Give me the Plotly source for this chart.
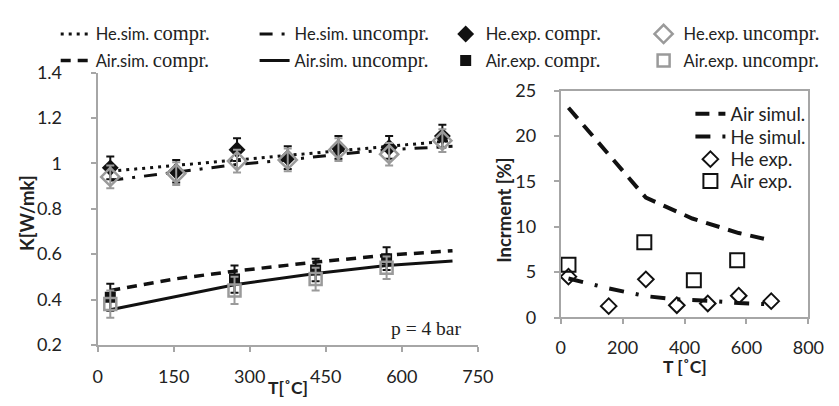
import plotly.graph_objects as go

# ---------------- data (left panel) ----------------
T_exp_he = [25, 155, 275, 375, 475, 575, 680]
he_exp_compr = [0.98, 0.965, 1.06, 1.025, 1.07, 1.07, 1.12]
he_exp_uncompr = [0.94, 0.955, 1.01, 1.015, 1.06, 1.04, 1.10]
he_err = [0.05, 0.05, 0.05, 0.05, 0.05, 0.05, 0.05]

T_exp_air = [25, 270, 430, 570]
air_exp_compr = [0.41, 0.49, 0.53, 0.58]
air_exp_uncompr = [0.38, 0.44, 0.49, 0.54]
air_err = [0.06, 0.06, 0.05, 0.05]

T_sim_he = [25, 155, 275, 375, 475, 575, 700]
he_sim_compr = [0.965, 0.99, 1.015, 1.035, 1.055, 1.075, 1.10]
he_sim_uncompr = [0.925, 0.96, 0.995, 1.015, 1.04, 1.06, 1.075]

T_sim_air = [25, 150, 270, 430, 570, 700]
air_sim_compr = [0.44, 0.49, 0.525, 0.565, 0.595, 0.615]
air_sim_uncompr = [0.355, 0.41, 0.465, 0.515, 0.55, 0.57]

# ---------------- data (right panel) ----------------
T_air_simul = [25, 275, 425, 575, 680]
air_simul = [23.1, 13.2, 10.9, 9.3, 8.5]
T_he_simul = [25, 155, 275, 375, 475, 575, 680]
he_simul = [4.3, 3.2, 2.35, 2.0, 1.85, 1.6, 1.45]
T_he_inc = [25, 155, 275, 375, 475, 575, 680]
he_inc = [4.5, 1.25, 4.2, 1.35, 1.55, 2.4, 1.8]
T_air_inc = [25, 270, 430, 570]
air_inc = [5.8, 8.3, 4.1, 6.3]

left_xticks = [0, 150, 300, 450, 600, 750]
left_yticks = [0.2, 0.4, 0.6, 0.8, 1, 1.2, 1.4]
right_xticks = [0, 200, 400, 600, 800]
right_yticks = [0, 5, 10, 15, 20, 25]

SANS = "Lato"
SERIF = "Liberation Serif"
BLACK = "#111111"
GRAY = "#9a9a9a"
AXC = "#a6a6a6"
TXT = "#222222"


def nm(a, b):
    return a + "<span style=\"font-family:'" + SERIF + "';font-size:20.5px\">" + b + "</span>"


fig = go.Figure()

# left panel lines
fig.add_trace(go.Scatter(x=T_sim_he, y=he_sim_compr, mode="lines", name=nm("He.sim. ", "compr."),
                         line=dict(color=BLACK, width=3, dash="3px,5px"), legend="legend",
                         xaxis="x", yaxis="y"))
fig.add_trace(go.Scatter(x=T_sim_he, y=he_sim_uncompr, mode="lines", name=nm("He.sim. ", "uncompr."),
                         line=dict(color=BLACK, width=3, dash="13px,9px,3px,9px"), legend="legend2",
                         xaxis="x", yaxis="y"))
fig.add_trace(go.Scatter(x=T_sim_air, y=air_sim_compr, mode="lines", name=nm("Air.sim. ", "compr."),
                         line=dict(color=BLACK, width=3.5, dash="10px,7px"), legend="legend5",
                         xaxis="x", yaxis="y"))
fig.add_trace(go.Scatter(x=T_sim_air, y=air_sim_uncompr, mode="lines", name=nm("Air.sim. ", "uncompr."),
                         line=dict(color=BLACK, width=3), legend="legend6",
                         xaxis="x", yaxis="y"))
# left panel experimental points
fig.add_trace(go.Scatter(x=T_exp_he, y=he_exp_compr, mode="markers", name=nm("He.exp. ", "compr."),
                         marker=dict(symbol="diamond", size=13, color=BLACK),
                         error_y=dict(type="data", array=he_err, color=BLACK, thickness=2, width=4),
                         legend="legend3", xaxis="x", yaxis="y"))
fig.add_trace(go.Scatter(x=T_exp_he, y=he_exp_uncompr, mode="markers", name=nm("He.exp. ", "uncompr."),
                         marker=dict(symbol="diamond-open", size=14, color=GRAY, line=dict(width=2.5, color=GRAY)),
                         error_y=dict(type="data", array=he_err, color=GRAY, thickness=2, width=4),
                         legend="legend4", xaxis="x", yaxis="y"))
fig.add_trace(go.Scatter(x=T_exp_air, y=air_exp_compr, mode="markers", name=nm("Air.exp. ", "compr."),
                         marker=dict(symbol="square", size=11, color=BLACK),
                         error_y=dict(type="data", array=air_err, color=BLACK, thickness=2, width=4),
                         legend="legend7", xaxis="x", yaxis="y"))
fig.add_trace(go.Scatter(x=T_exp_air, y=air_exp_uncompr, mode="markers", name=nm("Air.exp. ", "uncompr."),
                         marker=dict(symbol="square-open", size=12, color=GRAY, line=dict(width=2.5, color=GRAY)),
                         error_y=dict(type="data", array=air_err, color=GRAY, thickness=2, width=4),
                         legend="legend8", xaxis="x", yaxis="y"))

# right panel
fig.add_trace(go.Scatter(x=T_air_simul, y=air_simul, mode="lines", name="Air simul.",
                         line=dict(color=BLACK, width=4, dash="14px,9px"), legend="legend9",
                         xaxis="x2", yaxis="y2"))
fig.add_trace(go.Scatter(x=T_he_simul, y=he_simul, mode="lines", name="He simul.",
                         line=dict(color=BLACK, width=4, dash="15px,12px,3px,12px"), legend="legend10",
                         xaxis="x2", yaxis="y2"))
fig.add_trace(go.Scatter(x=T_he_inc, y=he_inc, mode="markers", name="He exp.",
                         marker=dict(symbol="diamond-open", size=12, color=BLACK, line=dict(width=2, color=BLACK)),
                         legend="legend11", xaxis="x2", yaxis="y2"))
fig.add_trace(go.Scatter(x=T_air_inc, y=air_inc, mode="markers", name="Air exp.",
                         marker=dict(symbol="square-open", size=14, color=BLACK, line=dict(width=2, color=BLACK)),
                         legend="legend12", xaxis="x2", yaxis="y2"))

W, H = 839, 406
TF = 18
TT = 18.5
TX = 17.5
ax_common = dict(showline=True, linecolor=AXC, linewidth=2, ticks="outside", ticklen=5,
                 tickcolor=AXC, tickwidth=2, showgrid=False, zeroline=False,
                 tickfont=dict(family=SANS, size=TF, color=TXT))

fig.update_layout(
    width=W, height=H, margin=dict(l=0, r=0, t=0, b=0),
    paper_bgcolor="white", plot_bgcolor="white",
    font=dict(family=SANS, size=15, color=TXT),
    xaxis=dict(domain=[95 / W, 485 / W], range=[0, 750], tickvals=left_xticks,
               ticklabelstandoff=9, anchor="y", **ax_common),
    yaxis=dict(domain=[(H - 352) / H, (H - 64) / H], range=[0.2, 1.4], tickvals=left_yticks,
               ticklabelstandoff=25, anchor="x", **ax_common),
    xaxis2=dict(domain=[570 / W, 824 / W], range=[0, 800], tickvals=right_xticks,
                ticklabelstandoff=8, anchor="y2", mirror=True, **ax_common),
    yaxis2=dict(domain=[(H - 323) / H, (H - 83) / H], range=[0, 25], tickvals=right_yticks,
                ticklabelstandoff=14, anchor="x2", mirror=True, **ax_common),
    showlegend=True,
)

leg_common = dict(orientation="v", xanchor="left", yanchor="top", bgcolor="rgba(0,0,0,0)",
                  font=dict(family=SANS, size=16.5, color=TXT), tracegroupgap=0,
                  itemclick=False, itemdoubleclick=False)
col_x = [52, 256, 452, 655]
row_top = [5, 33]
legs = {}
for i, name in enumerate(["legend", "legend2", "legend3", "legend4"]):
    legs[name] = dict(x=col_x[i] / W, y=(H - row_top[0]) / H, **leg_common)
for i, name in enumerate(["legend5", "legend6", "legend7", "legend8"]):
    legs[name] = dict(x=col_x[i] / W, y=(H - row_top[1]) / H, **leg_common)
rl = dict(leg_common)
rl["font"] = dict(family=SANS, size=18.5, color=TXT)
right_tops = [88, 112, 136, 159]
for i, name in enumerate(["legend9", "legend10", "legend11", "legend12"]):
    legs[name] = dict(x=703 / W, y=(H - right_tops[i]) / H, **rl)
fig.update_layout(**legs)

annots = [
    dict(text="<b>K[W/mk]</b>", x=22 / W, y=(H - 212) / H, textangle=-90,
         font=dict(family=SANS, size=TT, color=TXT)),
    dict(text="<b>T[˚C]</b>", x=290 / W, y=(H - 397) / H,
         font=dict(family=SANS, size=TX, color=TXT)),
    dict(text="<b>Incrment [%]</b>", x=511 / W, y=(H - 210) / H, textangle=-90,
         font=dict(family=SANS, size=TT, color=TXT)),
    dict(text="<b>T [˚C]</b>", x=697 / W, y=(H - 375) / H,
         font=dict(family=SANS, size=TX, color=TXT)),
    dict(text="p = 4 bar", x=432 / W, y=(H - 335) / H,
         font=dict(family=SERIF, size=19.5, color=TXT)),
]
for a in annots:
    a.update(xref="paper", yref="paper", showarrow=False, xanchor="center", yanchor="middle")
fig.update_layout(annotations=annots)

fig.write_html("out.html")
